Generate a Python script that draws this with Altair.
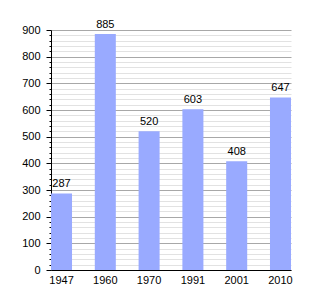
import altair as alt
import pandas as pd

years = ["1947", "1960", "1970", "1991", "2001", "2010"]
population = [287, 885, 520, 603, 408, 647]
y_ticks = list(range(0, 901, 20))

df = pd.DataFrame({"year": years, "pop": population})

major = "datum.value % 100 === 0"

x = alt.X("year:N", sort=years, title=None,
          scale=alt.Scale(paddingInner=0.52, paddingOuter=0),
          axis=alt.Axis(labelAngle=0, ticks=False, domainColor="black",
                        labelFont="Liberation Sans", labelFontSize=11,
                        labelColor="black", labelPadding=4, grid=False))

y = alt.Y("pop:Q", title=None,
          scale=alt.Scale(domain=[0, 900], nice=False, zero=True),
          axis=alt.Axis(values=y_ticks,
                        labelExpr="datum.value % 100 === 0 ? datum.label : ''",
                        labelFont="Liberation Sans", labelFontSize=11,
                        labelColor="black", labelPadding=6,
                        labelOverlap=False,
                        domainColor="black", tickColor="black",
                        tickSize={"condition": {"test": major, "value": 5}, "value": 2},
                        gridColor={"condition": {"test": major, "value": "#a8a8a8"}, "value": "#e2e2e2"},
                        gridWidth=1))

base = alt.Chart(df).encode(x=x, y=y)

bars = base.mark_bar(color="#99aaff")

labels = base.mark_text(dy=-6, font="Liberation Sans", fontSize=11, color="black",
                        baseline="alphabetic").encode(text="pop:Q")

chart = alt.layer(bars, labels).properties(
    width=240, height=240,
    autosize=alt.AutoSizeParams(type="none"),
    padding={"left": 51, "top": 30, "right": 29, "bottom": 30},
).configure_view(stroke=None)

chart.save("out.html", embed_options={"renderer": "svg", "actions": False})
